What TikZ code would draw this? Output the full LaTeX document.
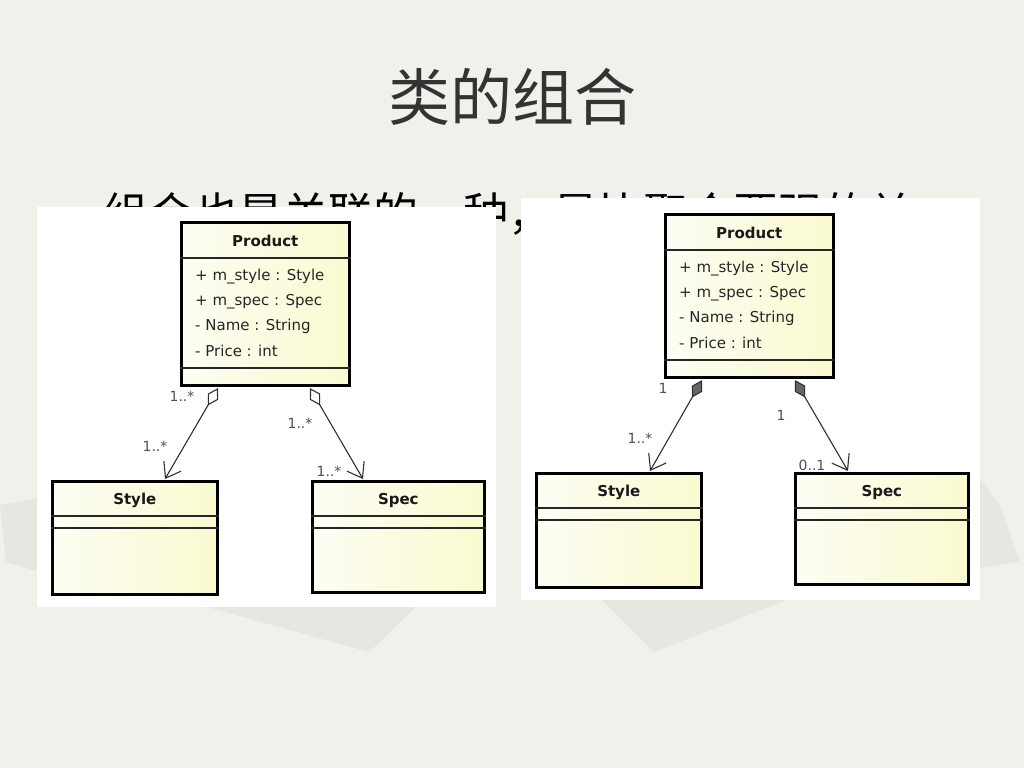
\documentclass[tikz,border=0pt]{standalone}
\usepackage{fontspec}
\setmainfont{DejaVu Sans}
\newfontfamily\cjk{Noto Sans CJK SC}
\usetikzlibrary{arrows.meta,calc}
\definecolor{bg}{HTML}{F1F1EB}
\definecolor{bgshade}{HTML}{E7E7E1}
\definecolor{titlecol}{HTML}{333333}
\definecolor{linecol}{HTML}{303030}
\definecolor{multcol}{HTML}{505050}
\definecolor{boxL}{HTML}{FDFDF4}
\definecolor{boxR}{HTML}{FAFAD0}
\begin{document}
\begin{tikzpicture}[x=1pt,y=-1pt,
  panel/.style={fill=white, draw=none, anchor=north west, inner sep=0pt},
  cls/.style={draw=black, line width=2.6pt, left color=boxL, right color=boxR, anchor=north west, inner sep=0pt},
  sepline/.style={draw=black!85, line width=1.1pt},
  cname/.style={font=\bfseries\fontsize{15}{15}\selectfont, text=black!90, inner sep=0pt},
  attr/.style={font=\fontsize{15}{15}\selectfont, text=black!85, anchor=west, inner sep=0pt},
  mult/.style={font=\fontsize{14}{14}\selectfont, text=multcol, inner sep=0pt},
  agg/.style={draw=linecol, line width=1.1pt, {Diamond[open,length=20pt,width=12pt]}-{Straight Barb[length=14pt,width=20pt]}},
  comp/.style={draw=linecol, line width=1.1pt, {Diamond[length=20pt,width=12pt,fill=black!60]}-{Straight Barb[length=14pt,width=20pt]}}
]
\useasboundingbox (0,0) rectangle (1024,768);
\fill[bg] (0,0) rectangle (1024,768);
% faint background shapes
\fill[bgshade] (0,505) -- (40,498) -- (40,572) -- (6,562) -- cycle;
\fill[bgshade] (200,605) -- (418,605) -- (369,652) -- cycle;
\fill[bgshade] (600,598) -- (792,598) -- (654,652) -- cycle;
\fill[bgshade] (978,476) -- (1000,505) -- (1020,562) -- (978,568) -- cycle;

% title and body text
\node[anchor=base, text=titlecol, inner sep=0pt] (title) at (512,120) {\cjk\fontsize{62}{62}\selectfont 类的组合};
\node[anchor=base west, text=black, inner sep=0pt] (body) at (103,230) {\cjk\fontsize{45}{45}\selectfont 组合也是关联的一种，是比聚合要强的关};

% panels
\node[panel, minimum width=459pt, minimum height=400pt] (pl) at (37,207) {};
\node[panel, minimum width=459pt, minimum height=402pt] (pr) at (521,198) {};

% ===== left diagram =====
\node[cls, minimum width=168pt, minimum height=163pt] (lP) at (180,221) {};
\draw[sepline] ($(lP.north west)+(0,37)$) -- ($(lP.north east)+(0,37)$);
\draw[sepline] ($(lP.north west)+(0,147)$) -- ($(lP.north east)+(0,147)$);
\node[cname] (lPn) at ($(lP.north)+(0,20)$) {Product};
\node[attr] (lPa1) at ($(lP.north west)+(15,56)$) {+ m\_style : Style};
\node[attr] (lPa2) at ($(lP.north west)+(15,81)$) {+ m\_spec : Spec};
\node[attr] (lPa3) at ($(lP.north west)+(15,105)$) {- Name : String};
\node[attr] (lPa4) at ($(lP.north west)+(15,130)$) {- Price : int};

\node[cls, minimum width=165pt, minimum height=113pt] (lS) at (51,480) {};
\draw[sepline] ($(lS.north west)+(0,36)$) -- ($(lS.north east)+(0,36)$);
\draw[sepline] ($(lS.north west)+(0,48)$) -- ($(lS.north east)+(0,48)$);
\node[cname] (lSn) at ($(lS.north)+(0,20)$) {Style};

\node[cls, minimum width=172pt, minimum height=111pt] (lC) at (311,480) {};
\draw[sepline] ($(lC.north west)+(0,36)$) -- ($(lC.north east)+(0,36)$);
\draw[sepline] ($(lC.north west)+(0,48)$) -- ($(lC.north east)+(0,48)$);
\node[cname] (lCn) at ($(lC.north)+(0,20)$) {Spec};

\draw[agg] ($(lP.south west)+(38,1.5)$) -- ($(lS.north west)+(114,-1)$);
\draw[agg] ($(lP.south west)+(130,1.5)$) -- ($(lC.north west)+(52,-1)$);

\node[mult] (lm1) at (182,396) {1..*};
\node[mult] (lm2) at (155,446) {1..*};
\node[mult] (lm3) at (300,423) {1..*};
\node[mult] (lm4) at (329,471) {1..*};

% ===== right diagram =====
\node[cls, minimum width=168pt, minimum height=163pt] (rP) at (664,213) {};
\draw[sepline] ($(rP.north west)+(0,37)$) -- ($(rP.north east)+(0,37)$);
\draw[sepline] ($(rP.north west)+(0,147)$) -- ($(rP.north east)+(0,147)$);
\node[cname] (rPn) at ($(rP.north)+(0,20)$) {Product};
\node[attr] (rPa1) at ($(rP.north west)+(15,56)$) {+ m\_style : Style};
\node[attr] (rPa2) at ($(rP.north west)+(15,81)$) {+ m\_spec : Spec};
\node[attr] (rPa3) at ($(rP.north west)+(15,105)$) {- Name : String};
\node[attr] (rPa4) at ($(rP.north west)+(15,130)$) {- Price : int};

\node[cls, minimum width=165pt, minimum height=114pt] (rS) at (535,472) {};
\draw[sepline] ($(rS.north west)+(0,36)$) -- ($(rS.north east)+(0,36)$);
\draw[sepline] ($(rS.north west)+(0,48)$) -- ($(rS.north east)+(0,48)$);
\node[cname] (rSn) at ($(rS.north)+(0,20)$) {Style};

\node[cls, minimum width=173pt, minimum height=111pt] (rC) at (794,472) {};
\draw[sepline] ($(rC.north west)+(0,36)$) -- ($(rC.north east)+(0,36)$);
\draw[sepline] ($(rC.north west)+(0,48)$) -- ($(rC.north east)+(0,48)$);
\node[cname] (rCn) at ($(rC.north)+(0,20)$) {Spec};

\draw[comp] ($(rP.south west)+(38,1.5)$) -- ($(rS.north west)+(115,-1)$);
\draw[comp] ($(rP.south west)+(131,1.5)$) -- ($(rC.north west)+(54,-1)$);

\node[mult] (rm1) at (663,388) {1};
\node[mult] (rm2) at (640,438) {1..*};
\node[mult] (rm3) at (781,415) {1};
\node[mult] (rm4) at (812,465) {0..1};
\end{tikzpicture}
\end{document}
